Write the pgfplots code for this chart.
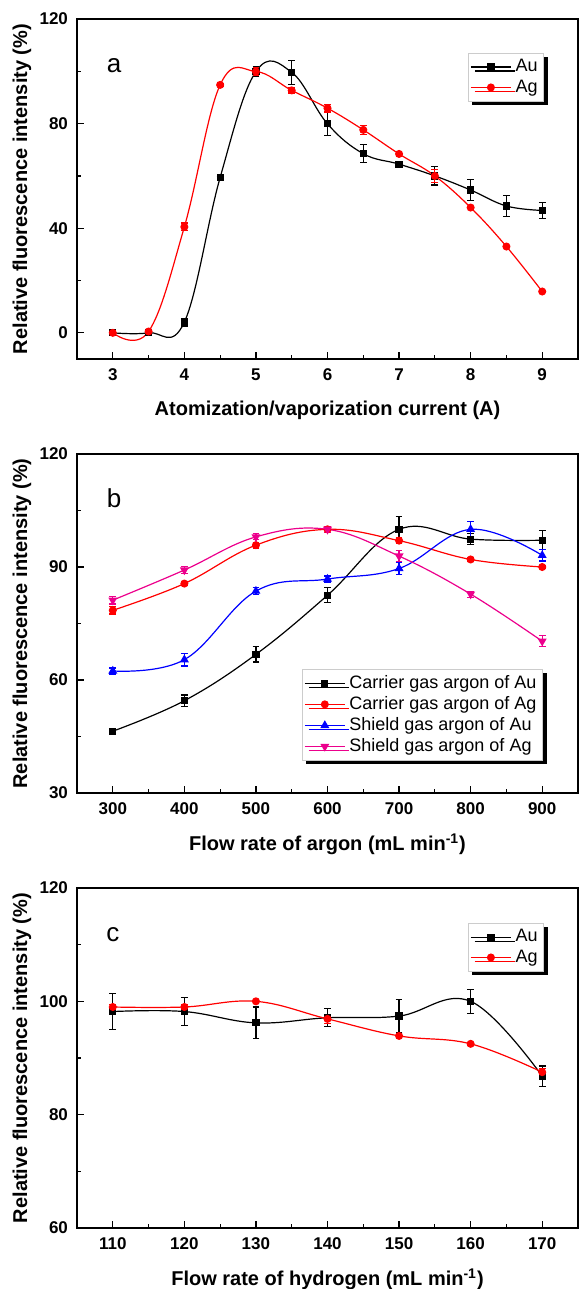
\documentclass[border=0pt]{standalone}
\usepackage{fontspec}
\setmainfont{Liberation Sans}
\usepackage{pgfplots}
\pgfplotsset{compat=1.18}
\usetikzlibrary{shadows}

\pgfplotsset{
  panel/.style={
    scale only axis, width=250.5pt,
    axis line style={line width=0.75pt},
    tick pos=left, tick align=inside,
    major tick length=3.5pt, minor tick length=2pt,
    every tick/.style={black, line width=0.6pt},
    minor x tick num=1, minor y tick num=1,
    /pgf/number format/assume math mode=true,
    /pgf/number format/1000 sep={},
    tick label style={font=\bfseries\fontsize{8.5}{10}\selectfont},
    xticklabel style={yshift=-1.5pt},
    yticklabel style={xshift=-1pt},
    every axis y label/.style={at={(axis description cs:0,0.5)}, xshift=-27.5pt, rotate=90, anchor=center},
    every axis x label/.style={at={(axis description cs:0.5,0)}, yshift=-25.5pt, anchor=center},
    label style={font=\bfseries\fontsize{10}{12}\selectfont},
    ylabel={Relative fluorescence intensity (\%)},
    legend style={draw=gray!40, line width=0.4pt, fill=white,
      font=\fontsize{9}{10}\selectfont, inner sep=1pt, row sep=-1.5pt,
      drop shadow={shadow xshift=2pt, shadow yshift=-2pt, fill=black, opacity=1}},
    legend cell align=left,
    legend image code/.code={\draw[mark repeat=2,mark phase=2] plot coordinates {(0pt,0pt)(10pt,0pt)(20pt,0pt)};},
    every axis plot/.append style={line width=0.6pt, smooth, tension=0.65},
    error bars/y dir=both, error bars/y explicit,
    error bars/error bar style={line width=0.6pt},
    error bars/error mark options={rotate=90, mark size=1.7pt, line width=0.6pt},
  },
  sAu/.style={black, mark=square*, mark size=1.5pt, mark options={solid}},
  sAg/.style={red, mark=*, mark size=1.7pt, mark options={solid}},
  sShAu/.style={blue, mark=triangle*, mark size=2pt, mark options={solid}},
  sShAg/.style={magenta, mark=triangle*, mark size=2pt, mark options={solid, rotate=180}},
}

\begin{document}
\begin{tikzpicture}
\path[use as bounding box] (0,0) rectangle (289.5pt,644.5pt);

% panel a
\begin{axis}[panel, at={(38.5pt,465pt)}, anchor=south west, height=170pt,
  xmin=2.5, xmax=9.5, ymin=-10, ymax=120,
  xtick={3,4,5,6,7,8,9}, ytick={0,40,80,120},
  xlabel={Atomization/vaporization current (A)},
  legend style={at={(0.932,0.9)}, anchor=north east}]
\addplot+[sAu] coordinates {
 (3,0) +- (0,0.3) (3.5,0) +- (0,0.3) (4,4.1) +- (0,1.5) (4.5,59.4) +- (0,0.5)
 (5,99.9) +- (0,2) (5.5,99.6) +- (0,4.5) (6,79.9) +- (0,4.5) (6.5,68.5) +- (0,3.5)
 (7,64.5) +- (0,1) (7.5,60) +- (0,3.5) (8,54.6) +- (0,4) (8.5,48.5) +- (0,4) (9,46.8) +- (0,3)};
\addplot+[sAg] coordinates {
 (3,0) +- (0,0.3) (3.5,0.5) +- (0,0.3) (4,40.5) +- (0,1.5) (4.5,94.8) +- (0,0.5)
 (5,99.9) +- (0,1.5) (5.5,92.7) +- (0,1) (6,85.9) +- (0,1.5) (6.5,77.6) +- (0,1.8)
 (7,68.4) +- (0,1) (7.5,60) +- (0,2.5) (8,47.9) +- (0,0.5) (8.5,33) +- (0,0.5) (9,15.8) +- (0,0.5)};
\legend{Au, Ag}
\node[font=\fontsize{13}{14}\selectfont] at (axis cs:3.02,102) {a};
\end{axis}

% panel b
\begin{axis}[panel, at={(38.5pt,248pt)}, anchor=south west, height=169.5pt,
  xmin=250, xmax=950, ymin=30, ymax=120,
  xtick={300,400,...,900}, ytick={30,60,90,120},
  xlabel={Flow rate of argon (mL min\textsuperscript{-1})},
  legend style={at={(0.93,0.366)}, anchor=north east}]
\addplot+[sAu] coordinates {
 (300,46.4) +- (0,0.5) (400,54.5) +- (0,1.5) (500,66.8) +- (0,2) (600,82.5) +- (0,2)
 (700,100) +- (0,3.5) (800,97.4) +- (0,1.5) (900,97.1) +- (0,2.5)};
\addplot+[sAg] coordinates {
 (300,78.5) +- (0,1) (400,85.6) +- (0,0.5) (500,95.8) +- (0,0.8) (600,100) +- (0,0.8)
 (700,97) +- (0,0.8) (800,92) +- (0,0.5) (900,90) +- (0,0.5)};
\addplot+[sShAu] coordinates {
 (300,62.4) +- (0,0.8) (400,65.4) +- (0,1.7) (500,83.6) +- (0,1) (600,86.8) +- (0,0.8)
 (700,89.6) +- (0,1.5) (800,100) +- (0,2) (900,93.1) +- (0,1.5)};
\addplot+[sShAg] coordinates {
 (300,81.2) +- (0,1) (400,89.2) +- (0,1) (500,98) +- (0,0.8) (600,100) +- (0,0.8)
 (700,92.9) +- (0,1.5) (800,82.8) +- (0,0.8) (900,70.3) +- (0,1.5)};
\legend{Carrier gas argon of Au, Carrier gas argon of Ag, Shield gas argon of Au, Shield gas argon of Ag}
\node[font=\fontsize{13}{14}\selectfont] at (axis cs:302,108.3) {b};
\end{axis}

% panel c
\begin{axis}[panel, at={(38.5pt,30.5pt)}, anchor=south west, height=170pt,
  xmin=105, xmax=175, ymin=60, ymax=120,
  xtick={110,120,...,170}, ytick={60,80,100,120},
  xlabel={Flow rate of hydrogen (mL min\textsuperscript{-1})},
  legend style={at={(0.932,0.897)}, anchor=north east}]
\addplot+[sAu] coordinates {
 (110,98.2) +- (0,3.2) (120,98.2) +- (0,2.5) (130,96.2) +- (0,2.8) (140,97.1) +- (0,1.6)
 (150,97.4) +- (0,2.9) (160,100) +- (0,2.1) (170,86.8) +- (0,1.8)};
\addplot+[sAg] coordinates {
 (110,99) +- (0,0.5) (120,99) +- (0,0.5) (130,100) +- (0,0.3) (140,96.9) +- (0,0.8)
 (150,93.9) +- (0,0.3) (160,92.5) +- (0,0.3) (170,87.5) +- (0,0.6)};
\legend{Au, Ag}
\node[font=\fontsize{13}{14}\selectfont] at (axis cs:110,111.7) {c};
\end{axis}
\end{tikzpicture}
\end{document}
